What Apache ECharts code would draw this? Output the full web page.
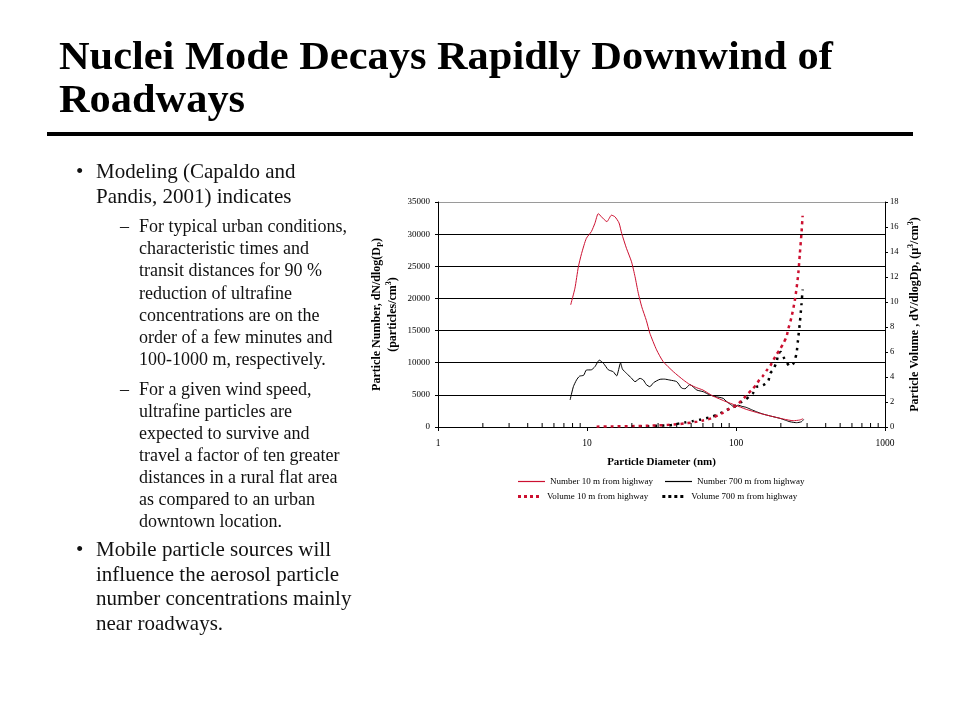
<!DOCTYPE html>
<html>
<head>
<meta charset="utf-8">
<script src="https://cdn.jsdelivr.net/npm/echarts@6/dist/echarts.min.js"></script>
<style>
  html, body { margin:0; padding:0; background:#fff; }
  body { width:960px; height:720px; position:relative; overflow:hidden; font-family:'Liberation Serif','Times New Roman',serif; color:#000; }
  #chart { position:absolute; left:0; top:0; width:960px; height:720px; }
  .title { position:absolute; left:59px; top:34px; font-size:40px; line-height:43px; font-weight:bold; white-space:nowrap; transform:scaleX(1.06); transform-origin:0 0; }
  .rule { position:absolute; left:47px; top:132px; width:866px; height:4px; background:#000; }
  .para { position:absolute; white-space:nowrap; color:#111; }
  .main { left:96px; font-size:21px; line-height:25px; }
  .sub { left:139px; font-size:18px; line-height:22px; }
  .mark { position:absolute; }
  .main .mark { left:-20px; top:0; }
  .sub .mark { left:-19px; top:0; }
</style>
</head>
<body>
<div id="chart"></div>
<div class="title">Nuclei Mode Decays Rapidly Downwind of<br>Roadways</div>
<div class="rule"></div>

<div class="para main" style="top:159px"><span class="mark">•</span>Modeling (Capaldo and<br>Pandis, 2001) indicates</div>
<div class="para sub" style="top:215px; line-height:22.2px"><span class="mark">–</span>For typical urban conditions,<br>characteristic times and<br>transit distances for 90 %<br>reduction of ultrafine<br>concentrations are on the<br>order of a few minutes and<br>100-1000 m, respectively.</div>
<div class="para sub" style="top:378px"><span class="mark">–</span>For a given wind speed,<br>ultrafine particles are<br>expected to survive and<br>travel a factor of ten greater<br>distances in a rural flat area<br>as compared to an urban<br>downtown location.</div>
<div class="para main" style="top:537px; line-height:24.5px"><span class="mark">•</span>Mobile particle sources will<br>influence the aerosol particle<br>number concentrations mainly<br>near roadways.</div>

<script>
// ---- data: [particle diameter (nm), value] ----
const number10m = [
  [7.77,19000],[8.3,21600],[8.75,24900],[9.2,27000],[9.9,29350],[10.7,30400],[11.3,31700],
  [11.9,33200],[12.5,32700],[13.6,31950],[14.6,32950],[15.4,32700],[16.4,31750],[17.1,30100],
  [18.4,27800],[19.9,25700],[21.0,23400],[22.1,20800],[23.3,18700],[25.0,16600],[26.4,14600],
  [29.3,12000],[32.4,10200],[38,8600],[44.4,7300],[49,6600],[54.6,6100],[60,5750],[70,4820],
  [86,3930],[98.5,3420],[117,2750],[144,2130],[178,1600],[208,1240],[242,980],[268,1090],[282,1290]
];
const number700m = [
  [7.7,4200],[8.1,6270],[8.5,7300],[8.9,7900],[9.5,8050],[9.9,8860],[10.7,8900],[11.3,9380],
  [12.1,10400],[12.9,9900],[13.9,8900],[15.0,8600],[15.8,7950],[16.8,9950],[17.3,9000],[18.4,8350],
  [19.9,7600],[21.0,7050],[22.7,7570],[23.9,7300],[25.0,6600],[26.4,6270],[28.0,6900],[30.9,7420],
  [33,7450],[36,7300],[40,7050],[43.2,6050],[45.5,5950],[49,6600],[54.6,5750],[60.3,5490],
  [66.7,4980],[74,4700],[82,4460],[86.8,3930],[93,3420],[98.5,3000],[103,3400],[110,3200],
  [117,3060],[127,2700],[137,2380],[150,2050],[170,1710],[197,1350],[215,1050],[230,820],
  [255,670],[275,820],[285,1190]
];
const volume10m = [
  [11.6,0.03],[15,0.05],[20,0.07],[25,0.1],[30,0.13],[35,0.17],[40,0.22],[45,0.28],[50,0.35],
  [55,0.43],[60,0.52],[65,0.62],[70,0.74],[76,0.95],[82,1.15],[90,1.45],[100,1.7],[108.6,2.1],
  [117,2.5],[127,2.95],[137,3.4],[144,3.8],[152,4.1],[160,4.5],[170,4.9],[178,5.35],[187,5.8],
  [197,6.2],[208,6.7],[218,7.2],[225,7.9],[236,8.8],[248,10.1],[255,11.1],[262,12.3],[268,13.8],
  [275,15.5],[280,16.9]
];
const volume700m = [
  [20,0.03],[25,0.06],[30,0.1],[35,0.14],[38,0.18],[42,0.3],[46,0.38],[51.5,0.48],[57,0.58],
  [63,0.7],[69,0.83],[74,0.96],[80,1.15],[86.8,1.36],[93,1.55],[101,1.76],[108.6,2.0],[116,2.2],
  [123,2.45],[130,2.7],[137,3.2],[144,3.25],[152,3.35],[160,3.5],[165,3.7],[170,4.3],[178,4.6],
  [187,5.2],[193,5.9],[200,6.0],[208,5.6],[218,5.2],[230,4.85],[242,5.05],[250,5.5],[255,5.9],
  [262,7.2],[268,8.3],[275,9.8],[280,11.0]
];
const minorTickValues = [2,3,4,5,6,7,8,9,20,30,40,50,60,70,80,90,200,300,400,500,600,700,800,900];
const seriesNames = ['Number 10 m from highway','Number 700 m from highway','Volume 10 m from highway','Volume 700 m from highway'];

const FONT = "'Liberation Serif','Times New Roman',serif";
const RED = '#cc1030';
const BLACK = '#000000';
const DOTS_ICON = 'path://M0,0h4v4h-4zM8,0h4v4h-4zM16,0h4v4h-4zM24,0h4v4h-4z';

const chart = echarts.init(document.getElementById('chart'), null, {renderer:'canvas'});

const nameStyle = {
  fontFamily: FONT, fontWeight:'bold', fontSize:12, color:'#000', lineHeight:16,
  rich: {
    sub: { fontFamily: FONT, fontWeight:'bold', fontSize:8, color:'#000', verticalAlign:'bottom', lineHeight:16 },
    sup: { fontFamily: FONT, fontWeight:'bold', fontSize:8, color:'#000', verticalAlign:'top', lineHeight:16 }
  }
};
const plain = v => String(v);

const option = {
  animation:false,
  backgroundColor:'transparent',
  textStyle:{ fontFamily: FONT, color:'#000' },
  grid:{ left:438, top:202, width:447, height:225, containLabel:false },
  legend:[
    { data:[{name:seriesNames[0], icon:'rect'}, {name:seriesNames[1], icon:'rect'}],
      left:518, top:477, padding:0, itemWidth:27, itemHeight:1.2, itemGap:12,
      textStyle:{ fontFamily:FONT, fontSize:9, color:'#000' } },
    { data:[{name:seriesNames[2], icon:DOTS_ICON}, {name:seriesNames[3], icon:DOTS_ICON}],
      left:518, top:492, padding:0, itemWidth:27, itemHeight:3, itemGap:14,
      textStyle:{ fontFamily:FONT, fontSize:9, color:'#000' } }
  ],
  xAxis:{
    type:'log', logBase:10, min:1, max:1000,
    axisLine:{ show:true, lineStyle:{ color:'#000', width:1 } },
    axisTick:{ show:true, length:4, lineStyle:{ color:'#000' } },
    axisLabel:{ color:'#000', fontFamily:FONT, fontSize:9.5, margin:11, formatter:plain },
    splitLine:{ show:false },
    name:'Particle Diameter (nm)', nameLocation:'middle', nameGap:30,
    nameTextStyle:{ fontFamily:FONT, fontWeight:'bold', fontSize:11, color:'#000' }
  },
  yAxis:[
    {
      type:'value', min:0, max:35000, interval:5000, position:'left',
      axisLine:{ show:true, lineStyle:{ color:'#000', width:1 } },
      axisTick:{ show:true, length:3, lineStyle:{ color:'#000' } },
      axisLabel:{ color:'#000', fontFamily:FONT, fontSize:9, margin:8, formatter:plain },
      splitLine:{ show:true, lineStyle:{ color:['#000','#000','#000','#000','#000','#000','#000','#9a9a9a'], width:1 } },
      name:'Particle Number, dN/dlog(D{sub|P})\n(particles/cm{sup|3})',
      nameLocation:'middle', nameRotate:90, nameGap:37, nameTextStyle:nameStyle
    },
    {
      type:'value', min:0, max:18, interval:2, position:'right',
      axisLine:{ show:true, lineStyle:{ color:'#000', width:1 } },
      axisTick:{ show:true, length:3, lineStyle:{ color:'#000' } },
      axisLabel:{ color:'#000', fontFamily:FONT, fontSize:8.5, margin:5, formatter:plain },
      splitLine:{ show:false },
      name:'Particle Volume , dV/dlogDp, (µ{sup|3}/cm{sup|3})',
      nameLocation:'middle', nameRotate:90, nameGap:22, nameTextStyle:nameStyle
    }
  ],
  series:[
    { name:seriesNames[0], type:'line', data:number10m, yAxisIndex:0, symbol:'none', smooth:0.2,
      lineStyle:{ color:RED, width:1 }, itemStyle:{ color:RED }, z:4 },
    { name:seriesNames[1], type:'line', data:number700m, yAxisIndex:0, symbol:'none', smooth:0.2,
      lineStyle:{ color:BLACK, width:1 }, itemStyle:{ color:BLACK }, z:3 },
    { name:seriesNames[2], type:'line', data:volume10m, yAxisIndex:1, symbol:'none', smooth:0.2,
      lineStyle:{ color:RED, width:2.5, type:[3,4] }, itemStyle:{ color:RED }, z:4 },
    { name:seriesNames[3], type:'line', data:volume700m, yAxisIndex:1, symbol:'none', smooth:0.2,
      lineStyle:{ color:BLACK, width:2.5, type:[2.5,5] }, itemStyle:{ color:BLACK }, z:3 },
    { name:'minorTicks', type:'custom', yAxisIndex:0, silent:true, clip:false, z:5,
      data: minorTickValues.map(v => [v, 0]),
      encode:{ x:0, y:1 },
      renderItem:function(params, api){
        const p = api.coord([api.value(0), 0]);
        return { type:'line', shape:{ x1:p[0], y1:p[1], x2:p[0], y2:p[1]-4 },
                 style:{ stroke:'#000', lineWidth:1 } };
      }
    }
  ]
};
chart.setOption(option);
</script>
</body>
</html>
